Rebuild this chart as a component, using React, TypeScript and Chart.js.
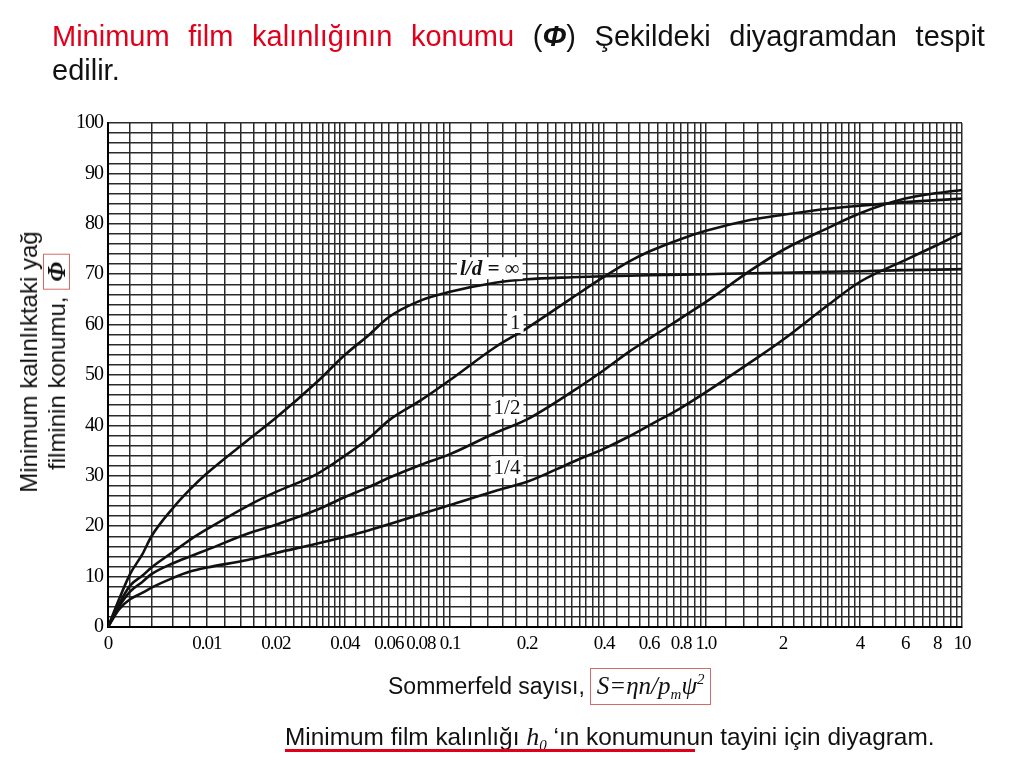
import React, { useEffect, useRef } from 'react';
import { Chart, registerables, Scale } from 'chart.js';

Chart.register(...registerables);

// ---------- data ----------
const sommerfeld = [0, 0.001, 0.002, 0.003, 0.004, 0.006, 0.008, 0.01, 0.015, 0.02, 0.03, 0.04, 0.05, 0.06, 0.08, 0.1, 0.15, 0.2, 0.3, 0.4, 0.5, 0.6, 0.8, 1, 1.5, 2, 3, 4, 6, 8, 10];
const phiInfinite = [0, 5.5, 10.5, 14.5, 18, 23.5, 27.3, 30.5, 37, 41.5, 48.5, 54, 58, 61.5, 64.8, 66.5, 68.3, 69, 69.4, 69.6, 69.7, 69.8, 69.9, 70, 70.2, 70.3, 70.5, 70.6, 70.8, 70.9, 71];
const phiLd1 = [0, 4.5, 8.2, 10.2, 11.8, 14.8, 17.3, 19.4, 24, 26.8, 30.3, 34, 37.5, 41, 45, 49, 55.5, 59.3, 65.3, 69.5, 72.5, 74.5, 77, 78.6, 80.8, 81.8, 83, 83.6, 84.3, 84.7, 85];
const phiLdHalf = [0, 4, 7, 9, 10.5, 12.6, 14, 15.3, 18.5, 20.3, 23.2, 25.8, 27.8, 29.6, 32.2, 34.3, 38.5, 41.2, 46.7, 51, 54.6, 57.2, 61.3, 64.5, 70.8, 74.8, 79.2, 82.1, 85, 86.1, 86.7];
const phiLdQuarter = [0, 3.5, 5.5, 6.8, 7.8, 9.7, 11, 11.8, 13.3, 14.7, 16.5, 17.9, 19.2, 20.4, 22.4, 24.2, 27, 28.8, 32.7, 35.4, 37.8, 40, 43.5, 46.6, 52.6, 57, 63.9, 68.5, 72.8, 75.8, 78.2];

const curveLabelTexts = ['l/d = ∞', '1', '1/2', '1/4'];
const curveLabelS = [0.143, 0.18, 0.167, 0.167];
const curveLabelPhi = [71.2, 60.5, 43.5, 31.7];

const xTickValues = [0, 0.01, 0.02, 0.04, 0.06, 0.08, 0.1, 0.2, 0.4, 0.6, 0.8, 1, 2, 4, 6, 8, 10];
const xTickLabels = ['0', '0.01', '0.02', '0.04', '0.06', '0.08', '0.1', '0.2', '0.4', '0.6', '0.8', '1.0', '2', '4', '6', '8', '10'];
const yTickLabelValues = [0, 10, 20, 30, 40, 50, 60, 70, 80, 90, 100];

// chart-paper grid: [from, to, step]
const xGridSegments = [
  [0, 0.01, 0.002], [0.01, 0.02, 0.002], [0.02, 0.04, 0.002], [0.04, 0.06, 0.004],
  [0.06, 0.1, 0.005], [0.1, 0.2, 0.02], [0.2, 0.4, 0.02], [0.4, 1, 0.05],
  [1, 2, 0.2], [2, 4, 0.2], [4, 10, 0.5],
];

// axis definition of the printed chart paper (value -> fraction of axis length)
const axisKnotValues = [0, 0.002, 0.004, 0.006, 0.008, 0.01, 0.02, 0.04, 0.06, 0.08, 0.1, 1, 10];
const axisKnotFractions = [0, 0.0258, 0.0509, 0.0755, 0.096, 0.1159, 0.1967, 0.2775, 0.329, 0.3665, 0.4005, 0.7002, 1];

function buildGrid(): number[] {
  const out: number[] = [];
  xGridSegments.forEach(([a, b, s]) => {
    const n = Math.round((b - a) / s);
    for (let i = 0; i <= n; i++) {
      const v = Math.round((a + i * s) * 1e6) / 1e6;
      if (!out.includes(v)) out.push(v);
    }
  });
  return out;
}
const xGridValues = buildGrid();

function toFraction(v: number): number {
  const K = axisKnotValues, F = axisKnotFractions;
  if (v <= K[0]) return F[0];
  for (let i = 1; i < K.length; i++) {
    const a = K[i - 1], b = K[i];
    if (v <= b) {
      const t = a > 0 ? Math.log(v / a) / Math.log(b / a) : (v - a) / (b - a);
      return F[i - 1] + t * (F[i] - F[i - 1]);
    }
  }
  return F[F.length - 1];
}
function fromFraction(f: number): number {
  const K = axisKnotValues, F = axisKnotFractions;
  if (f <= F[0]) return K[0];
  for (let i = 1; i < F.length; i++) {
    if (f <= F[i]) {
      const a = K[i - 1], b = K[i];
      const t = (f - F[i - 1]) / (F[i] - F[i - 1]);
      return a > 0 ? a * Math.pow(b / a, t) : a + t * (b - a);
    }
  }
  return K[K.length - 1];
}

class SommerfeldScale extends Scale {
  static id = 'sommerfeld';
  static defaults = {};
  determineDataLimits() {
    (this as any).min = 0;
    (this as any).max = 10;
  }
  buildTicks() {
    return xGridValues.map((value) => ({ value }));
  }
  getLabelForValue(value: number) {
    return String(value);
  }
  getPixelForValue(value: number) {
    return (this as any).getPixelForDecimal(toFraction(value));
  }
  getPixelForTick(index: number) {
    const t = (this as any).ticks[index];
    return t ? this.getPixelForValue(t.value) : NaN;
  }
  getValueForPixel(pixel: number) {
    return fromFraction((this as any).getDecimalForPixel(pixel));
  }
}
Chart.register(SommerfeldScale as any);

const condensedTextPlugin = {
  id: 'condensedText',
  beforeDraw(chart: any) {
    chart.ctx.letterSpacing = '-1px';
  },
  afterDraw(chart: any) {
    chart.ctx.letterSpacing = '0px';
  },
};

const curveLabelPlugin = {
  id: 'curveLabels',
  afterDatasetsDraw(chart: any) {
    const { ctx, scales } = chart;
    ctx.save();
    ctx.letterSpacing = '0px';
    curveLabelTexts.forEach((txt, i) => {
      const px = scales.x.getPixelForValue(curveLabelS[i]);
      const py = scales.y.getPixelForValue(curveLabelPhi[i]);
      ctx.font = i === 0 ? 'italic bold 21px "Liberation Serif", serif' : '21px "Liberation Serif", serif';
      const w = ctx.measureText(txt).width;
      ctx.fillStyle = '#ffffff';
      ctx.fillRect(px - w / 2 - 3, py - 11, w + 6, 22);
      ctx.fillStyle = '#111111';
      ctx.textAlign = 'center';
      ctx.textBaseline = 'middle';
      ctx.fillText(txt, px, py + 1);
    });
    ctx.restore();
  },
};

const sans = '"Liberation Sans", Arial, sans-serif';
const serif = '"Liberation Serif", "Times New Roman", serif';
const red = '#e0001b';
const boxRed = '#d46a6a';

export default function App() {
  const canvasRef = useRef<HTMLCanvasElement | null>(null);

  useEffect(() => {
    if (!canvasRef.current) return;
    const mk = (vals: number[]) => sommerfeld.map((s, i) => ({ x: s, y: vals[i] }));
    const lineStyle = {
      borderColor: '#111111',
      borderWidth: 2.6,
      pointRadius: 0,
      fill: false,
      cubicInterpolationMode: 'monotone' as const,
    };
    const gridStyle = { color: '#2a2a2a', lineWidth: 1.5, drawTicks: false };
    const chart = new Chart(canvasRef.current, {
      type: 'line',
      data: {
        datasets: [
          { label: 'l/d = ∞', data: mk(phiInfinite), ...lineStyle },
          { label: 'l/d = 1', data: mk(phiLd1), ...lineStyle },
          { label: 'l/d = 1/2', data: mk(phiLdHalf), ...lineStyle },
          { label: 'l/d = 1/4', data: mk(phiLdQuarter), ...lineStyle },
        ],
      },
      options: {
        animation: false,
        responsive: false,
        maintainAspectRatio: false,
        layout: { padding: { left: 0, top: 123, right: 62, bottom: 0 } },
        plugins: { legend: { display: false }, title: { display: false }, tooltip: { enabled: false } },
        scales: {
          x: {
            type: 'sommerfeld' as any,
            min: 0,
            max: 10,
            grid: gridStyle,
            border: { display: true, color: '#000', width: 2 },
            ticks: {
              autoSkip: false,
              maxRotation: 0,
              minRotation: 0,
              padding: 6,
              color: '#000',
              font: { family: serif, size: 19 },
              callback: (value: any) => {
                const idx = xTickValues.findIndex((t) => Math.abs(t - value) < 1e-9);
                return idx >= 0 ? xTickLabels[idx] : '';
              },
            },
            afterFit: (scale: any) => { scale.height = 140; },
          } as any,
          y: {
            type: 'linear',
            min: 0,
            max: 100,
            grid: gridStyle,
            border: { display: true, color: '#000', width: 2 },
            ticks: {
              stepSize: 2,
              autoSkip: false,
              padding: 5,
              color: '#000',
              font: { family: serif, size: 20 },
              callback: (value: any) => (yTickLabelValues.includes(Number(value)) ? String(value) : ''),
            },
            afterFit: (scale: any) => { scale.width = 108; },
          },
        },
      },
      plugins: [condensedTextPlugin, curveLabelPlugin],
    });
    return () => chart.destroy();
  }, []);

  return (
    <div style={{ position: 'fixed', left: 0, top: 0, width: 1024, height: 767, background: '#fff', overflow: 'hidden' }}>
      <canvas ref={canvasRef} width={1024} height={767} style={{ position: 'absolute', left: 0, top: 0, width: 1024, height: 767 }} />

      {/* heading */}
      <div style={{ position: 'absolute', left: 52, top: 19, width: 933, fontFamily: sans, fontSize: 29, lineHeight: '34px', color: '#111' }}>
        <div style={{ display: 'flex', justifyContent: 'space-between', whiteSpace: 'nowrap' }}>
          <span style={{ color: red }}>Minimum</span>
          <span style={{ color: red }}>film</span>
          <span style={{ color: red }}>kalınlığının</span>
          <span style={{ color: red }}>konumu</span>
          <span>(<b><i>Φ</i></b>)</span>
          <span>Şekildeki</span>
          <span>diyagramdan</span>
          <span>tespit</span>
        </div>
        <div>edilir.</div>
      </div>

      {/* y axis title */}
      <div style={{ position: 'absolute', left: 43, top: 362, transform: 'translate(-50%, -50%) rotate(-90deg)', fontFamily: sans, fontSize: 24, lineHeight: '28px', textAlign: 'center', whiteSpace: 'nowrap', color: '#111' }}>
        <div>Minimum kalınlıktaki yağ</div>
        <div>
          filminin konumu,{' '}
          <span style={{ display: 'inline-block', border: '1.5px solid ' + boxRed, padding: '0 7px', lineHeight: '25px', fontFamily: serif, fontStyle: 'italic', fontWeight: 'bold', fontSize: 25 }}>Φ</span>
        </div>
      </div>

      {/* x axis title */}
      <div style={{ position: 'absolute', left: 388, top: 668, height: 37, display: 'flex', alignItems: 'center', whiteSpace: 'nowrap', color: '#111' }}>
        <span style={{ fontFamily: sans, fontSize: 23 }}>Sommerfeld sayısı,</span>
        <span style={{ marginLeft: 5, boxSizing: 'border-box', height: 37, border: '1.5px solid ' + boxRed, padding: '0 6px', fontFamily: serif, fontStyle: 'italic', fontSize: 25, lineHeight: '34px' }}>
          S=ηn/p<span style={{ fontSize: 15, position: 'relative', top: 5 }}>m</span>ψ<span style={{ fontSize: 15, position: 'relative', top: -10 }}>2</span>
        </span>
      </div>

      {/* caption */}
      <div style={{ position: 'absolute', left: 285, top: 722, fontFamily: sans, fontSize: 24.4, lineHeight: '30px', whiteSpace: 'nowrap', color: '#111' }}>
        Minimum film kalınlığı <i style={{ fontFamily: serif, fontSize: 26 }}>h<span style={{ fontSize: 15, position: 'relative', top: 5 }}>0</span></i> ‘ın konumunun tayini için diyagram.
      </div>
      <div style={{ position: 'absolute', left: 285, top: 749, width: 410, height: 3, background: red }} />
    </div>
  );
}
